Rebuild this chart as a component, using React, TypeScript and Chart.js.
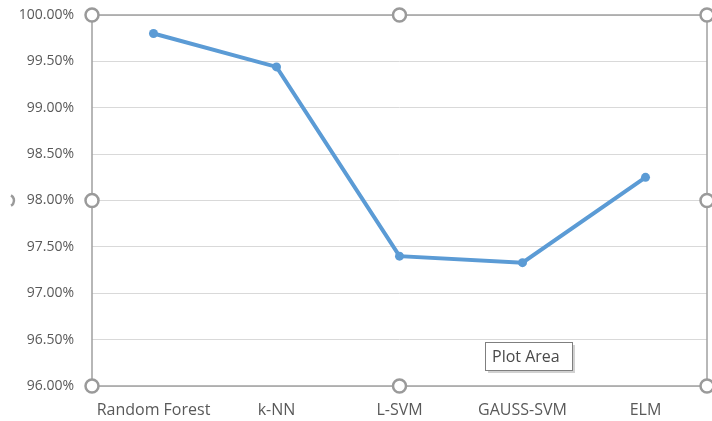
import { useEffect, useRef } from "react";
import { Chart, registerables } from "chart.js";

Chart.register(...registerables);

const categories = ["Random Forest", "k-NN", "L-SVM", "GAUSS-SVM", "ELM"];
const accuracy = [99.8, 99.44, 97.4, 97.33, 98.25];
const yMin = 96;
const yMax = 100;
const yStep = 0.5;
const calloutText = "Plot Area";

const FONT = "'Open Sans', 'Noto Sans', sans-serif";

export default function App() {
  const ref = useRef<HTMLCanvasElement>(null);

  useEffect(() => {
    if (!ref.current) return;

    const framePlugin = {
      id: "frame",
      afterDraw(chart: any) {
        const { ctx, chartArea: a } = chart;
        ctx.save();
        // plot area frame
        ctx.strokeStyle = "#a0a0a0";
        ctx.lineWidth = 1.5;
        ctx.strokeRect(a.left, a.top, a.right - a.left, a.bottom - a.top);
        // selection handles
        const mx = (a.left + a.right) / 2;
        const my = (a.top + a.bottom) / 2;
        const pts = [
          [a.left, a.top], [mx, a.top], [a.right, a.top],
          [a.left, my], [a.right, my],
          [a.left, a.bottom], [mx, a.bottom], [a.right, a.bottom],
        ];
        ctx.lineWidth = 2.5;
        ctx.strokeStyle = "#9a9a9a";
        ctx.fillStyle = "#ffffff";
        for (const [x, y] of pts) {
          ctx.beginPath();
          ctx.arc(x, y, 6.5, 0, Math.PI * 2);
          ctx.fill();
          ctx.stroke();
        }
        // partial outer handle at far left
        ctx.beginPath();
        ctx.arc(8, my, 6, -Math.PI / 3, Math.PI / 3);
        ctx.stroke();

        // callout "Plot Area"
        const bx = 485, by = 342, bw = 87, bh = 28;
        ctx.fillStyle = "rgba(0,0,0,0.18)";
        ctx.fillRect(bx + 3, by + 3, bw, bh);
        ctx.fillStyle = "#ffffff";
        ctx.fillRect(bx, by, bw, bh);
        ctx.strokeStyle = "#7f7f7f";
        ctx.lineWidth = 1;
        ctx.strokeRect(bx + 0.5, by + 0.5, bw, bh);
        ctx.fillStyle = "#4a4a4a";
        ctx.font = `16px ${FONT}`;
        ctx.textBaseline = "middle";
        ctx.textAlign = "left";
        ctx.fillText(calloutText, bx + 7, by + bh / 2 + 1);
        ctx.restore();
      },
    };

    const chart = new Chart(ref.current, {
      type: "line",
      data: {
        labels: categories,
        datasets: [
          {
            data: accuracy,
            borderColor: "#5b9bd5",
            backgroundColor: "#5b9bd5",
            borderWidth: 4,
            pointRadius: 4.5,
            pointBackgroundColor: "#5b9bd5",
            pointBorderWidth: 0,
            tension: 0,
          },
        ],
      },
      options: {
        animation: false,
        responsive: true,
        maintainAspectRatio: false,
        layout: { padding: { top: 15, right: 5, left: 0, bottom: 0 } },
        plugins: { legend: { display: false }, tooltip: { enabled: false } },
        scales: {
          x: {
            offset: true,
            grid: { display: false, drawTicks: false },
            border: { display: false },
            ticks: {
              color: "#595959",
              font: { family: FONT, size: 16 },
              padding: 15,
              maxRotation: 0,
              autoSkip: false,
            },
            afterFit(scale: any) {
              scale.height = 35;
              scale.paddingLeft = 0;
              scale.paddingRight = 0;
            },
          },
          y: {
            min: yMin,
            max: yMax,
            grid: { color: "#d9d9d9", lineWidth: 1, drawTicks: false },
            border: { display: false },
            ticks: {
              stepSize: yStep,
              color: "#595959",
              font: { family: FONT, size: 14 },
              padding: 18,
              callback: (v: any) => Number(v).toFixed(2) + "%",
            },
            afterFit(scale: any) {
              scale.width = 92;
              scale.paddingTop = 0;
              scale.paddingBottom = 0;
            },
          },
        },
      },
      plugins: [framePlugin],
    });

    return () => chart.destroy();
  }, []);

  return (
    <div style={{ position: "fixed", left: 0, top: 0, width: 712, height: 421, background: "#fff" }}>
      <canvas ref={ref} />
    </div>
  );
}
